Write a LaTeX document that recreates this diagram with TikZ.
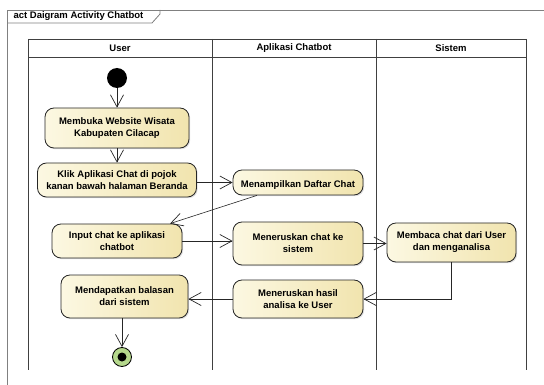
\documentclass[tikz,border=0pt]{standalone}
\usepackage{fontspec}
\setmainfont{Liberation Sans}
\usetikzlibrary{arrows.meta,shadows}
\definecolor{kuningmuda}{HTML}{FCF8E2}
\definecolor{kuningtua}{HTML}{F1E4AE}
\definecolor{hijauakhir}{HTML}{B5D88C}
\definecolor{garisabu}{HTML}{808080}
\tikzset{
  aksi/.style={draw=black!85,line width=0.8pt,rounded corners=9pt,
    left color=kuningmuda,right color=kuningtua,align=center,inner sep=0pt,
    font=\bfseries\fontsize{9.5}{12}\selectfont,
    execute at begin node={\rule{0pt}{12.5pt}},
    drop shadow={shadow xshift=1.2pt,shadow yshift=-1.2pt,opacity=0.25}},
  titikawal/.style={circle,fill=black,minimum size=20pt,inner sep=0pt},
  titikakhir/.style={circle,draw=black,fill=hijauakhir,minimum size=19pt,inner sep=0pt,line width=0.8pt},
  panah/.style={draw=black!85,line width=0.6pt,-{Straight Barb[length=12pt,width=13pt,line width=0.7pt]}},
  jalur/.style={draw=black!75,line width=0.8pt},
  kepala/.style={font=\bfseries\fontsize{9.5}{12}\selectfont},
}
\begin{document}
\begin{tikzpicture}[x=1pt,y=-1pt]
  \useasboundingbox (0,0) rectangle (544,385);
  % bingkai
  \draw[garisabu,line width=0.8pt] (7,385) -- (7,10) -- (544,10);
  \draw[garisabu,line width=0.8pt] (7,23) -- (152,23) -- (160,14) -- (160,10);
  \node[kepala,anchor=west] (judul) at (10,16.5) {act Daigram Activity Chatbot};
  % swimlane
  \draw[jalur] (28,39) rectangle (526,57);
  \foreach \x in {28,212,376,526} \draw[jalur] (\x,39) -- (\x,370);
  \node[kepala] (user) at (120,48) {User};
  \node[kepala] (aplikasi) at (294,48) {Aplikasi Chatbot};
  \node[kepala] (sistem) at (451,48) {Sistem};
  % aktivitas
  \node[titikawal] (mulai) at (117,78) {};
  \node[aksi,minimum width=144pt,minimum height=40pt] (buka) at (117,128) {Membuka Website Wisata\\Kabupaten Cilacap};
  \node[aksi,minimum width=159pt,minimum height=34pt] (klik) at (117,180) {Klik Aplikasi Chat di pojok\\kanan bawah halaman Beranda};
  \node[aksi,minimum width=130pt,minimum height=25pt] (tampil) at (298,182.5) {Menampilkan Daftar Chat};
  \node[aksi,minimum width=130pt,minimum height=34pt] (input) at (117,241) {Input chat ke aplikasi\\chatbot};
  \node[aksi,minimum width=130pt,minimum height=43pt] (terus) at (298,243.5) {Meneruskan chat ke\\sistem};
  \node[aksi,minimum width=129pt,minimum height=39pt] (baca) at (451.5,242.5) {Membaca chat dari User\\dan menganalisa};
  \node[aksi,minimum width=130pt,minimum height=38pt] (hasil) at (298,299) {Meneruskan hasil\\analisa ke User};
  \node[aksi,minimum width=127pt,minimum height=43pt] (dapat) at (124.5,296.5) {Mendapatkan balasan\\dari sistem};
  \node[titikakhir] (akhir) at (122,357) {};
  \fill (akhir) circle (4.5);
  % alur
  \draw[panah] (mulai) -- (buka);
  \draw[panah] (buka) -- (klik);
  \draw[panah] (klik.east |- tampil) -- (tampil);
  \draw[panah] ([xshift=-41pt]tampil.south) -- ([xshift=53pt]input.north);
  \draw[panah] (input.east) -- (input.east -| terus.west);
  \draw[panah] (terus) -- (terus -| baca.west);
  \draw[panah] (baca) |- (hasil);
  \draw[panah] (hasil) -- (hasil -| dapat.east);
  \draw[panah] (dapat.south -| akhir) -- (akhir);
\end{tikzpicture}
\end{document}
